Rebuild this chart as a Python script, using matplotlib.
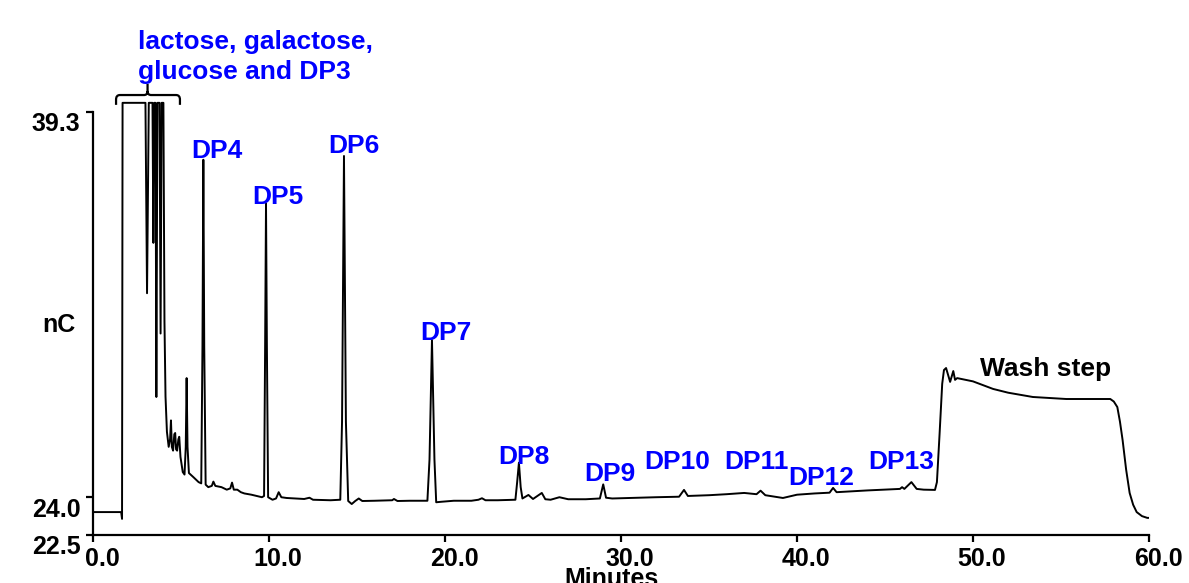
import matplotlib
matplotlib.use("Agg")
import matplotlib.pyplot as plt
from matplotlib.path import Path
from matplotlib.patches import PathPatch
from matplotlib.transforms import ScaledTranslation

plt.rcParams['font.family'] = ['Liberation Sans', 'DejaVu Sans']
plt.rcParams['font.weight'] = 'bold'

# ---- data ----
CLIP = 39.66
time_min = [
    0.0, 1.6, 1.65, 1.68, 2.98, 3.07, 3.17, 3.38, 3.43, 3.48, 3.55, 3.6, 3.66,
    3.78, 3.84, 3.9, 4.0, 4.06, 4.12, 4.2, 4.3, 4.38, 4.43, 4.48, 4.55, 4.62,
    4.67, 4.72, 4.78, 4.85, 4.9, 4.97, 5.1, 5.2, 5.27, 5.32, 5.37, 5.45, 5.7,
    6.0, 6.15, 6.22, 6.27, 6.32, 6.4, 6.55, 6.75, 6.84, 6.95, 7.3, 7.6, 7.8,
    7.9, 8.0, 8.2, 8.4, 8.6, 9.0, 9.3, 9.6, 9.72, 9.78, 9.83, 9.88, 9.95, 10.2,
    10.4, 10.55, 10.7, 11.0, 12.0, 12.3, 12.5, 13.5, 14.05, 14.15, 14.26, 14.37,
    14.5, 14.7, 14.9, 15.1, 15.3, 16.0, 17.0, 17.1, 17.3, 18.0, 19.0, 19.12,
    19.26, 19.4, 19.5, 19.8, 20.5, 21.5, 21.9, 22.1, 22.3, 23.0, 24.0, 24.1,
    24.2, 24.3, 24.4, 24.74, 25.0, 25.5, 25.7, 26.0, 26.5, 26.8, 27.0, 28.0,
    28.8, 28.99, 29.15, 29.5, 31.0, 32.0, 33.3, 33.58, 33.8, 35.0, 36.0, 37.0,
    37.7, 37.93, 38.2, 39.2, 40.0, 41.0, 41.85, 42.05, 42.25, 44.0, 45.5, 45.85,
    45.97, 46.1, 46.5, 46.8, 47.2, 47.84, 47.95, 48.1, 48.25, 48.35, 48.47,
    48.7, 48.88, 48.98, 49.1, 50.0, 51.14, 52.0, 53.4, 55.3, 57.8, 58.0, 58.2,
    58.35, 58.5, 58.7, 58.9, 59.1, 59.3, 59.6, 59.9, 60.0]
signal_nC = [
    23.41, 23.41, 23.14, CLIP, CLIP, 32.1, CLIP, CLIP, 34.1, CLIP, CLIP, 27.98,
    CLIP, CLIP, 30.5, CLIP, CLIP, 31.0, 28.0, 26.6, 26.0, 26.3, 27.05, 26.0,
    25.85, 26.5, 26.55, 25.9, 25.85, 26.3, 26.4, 25.6, 25.0, 24.9, 26.0, 28.73,
    26.0, 24.96, 24.8, 24.6, 24.55, 30.0, 37.4, 30.0, 24.5, 24.4, 24.45, 24.62,
    24.45, 24.4, 24.3, 24.35, 24.58, 24.3, 24.3, 24.2, 24.15, 24.1, 24.05,
    24.0, 24.05, 30.0, 35.65, 30.0, 24.0, 23.9, 23.95, 24.2, 24.0, 23.97,
    23.93, 23.98, 23.9, 23.88, 23.9, 27.0, 37.55, 27.0, 23.85, 23.73, 23.85,
    23.95, 23.85, 23.86, 23.88, 23.93, 23.85, 23.86, 23.86, 25.5, 30.24, 25.5,
    23.8, 23.82, 23.86, 23.86, 23.9, 23.96, 23.88, 23.88, 23.9, 24.6, 25.37,
    24.4, 23.95, 24.09, 23.93, 24.17, 23.92, 23.9, 24.0, 23.95, 23.92, 23.92,
    23.95, 24.51, 23.98, 23.95, 23.98, 24.0, 24.02, 24.29, 24.05, 24.08, 24.12,
    24.17, 24.12, 24.26, 24.08, 23.97, 24.1, 24.15, 24.18, 24.37, 24.2, 24.27,
    24.32, 24.33, 24.4, 24.33, 24.6, 24.33, 24.3, 24.29, 24.6, 26.5, 28.5,
    29.05, 29.13, 28.58, 29.01, 28.66, 28.73, 28.6, 28.3, 28.15, 27.98, 27.9,
    27.9, 27.8, 27.58, 27.0, 26.27, 25.1, 24.17, 23.7, 23.41, 23.25, 23.18,
    23.18]

peak_labels = ['DP4', 'DP5', 'DP6', 'DP7', 'DP8', 'DP9', 'DP10', 'DP11',
               'DP12', 'DP13']
xtick_values = [0, 10, 20, 30, 40, 50, 60]
ytick_values = [22.5, 24.0, 39.3]

# ---- figure ----
fig = plt.figure(figsize=(11.89, 5.83), dpi=100)
ax = fig.add_axes([93 / 1189, 48 / 583, 1056 / 1189, 478 / 583])
ax.plot(time_min, signal_nC, color='black', lw=1.4, solid_joinstyle='round')
ax.set_xlim(0, 60)
ax.set_ylim(22.5, 41.48)

for s in ['top', 'right']:
    ax.spines[s].set_visible(False)
ax.spines['left'].set_bounds(22.5, 39.3)
ax.spines['left'].set_linewidth(1.6)
ax.spines['bottom'].set_linewidth(1.6)

ax.set_xticks(xtick_values)
ax.set_xticklabels([f'{v:.1f}' for v in xtick_values])
ax.set_yticks(ytick_values)
ax.set_yticklabels([f'{v:.1f}' for v in ytick_values])
ax.tick_params(axis='both', direction='out', length=5, width=1.6,
               labelsize=18, pad=4)

dx = ScaledTranslation(0.09, 0, fig.dpi_scale_trans)
for lab in ax.get_xticklabels():
    lab.set_transform(lab.get_transform() + dx)
    lab.set_fontweight('bold')
dy = ScaledTranslation(0, -0.10, fig.dpi_scale_trans)
for lab in ax.get_yticklabels():
    lab.set_transform(lab.get_transform() + dy)
    lab.set_fontweight('bold')

# axis labels
fig.text(59 / 1189, 1 - 325 / 583, 'nC', ha='center', va='center',
         fontsize=18, fontweight='bold')
fig.text(612 / 1189, 1 - 579 / 583, 'Minutes', ha='center', va='center',
         fontsize=18, fontweight='bold')

# peak annotations
label_pos = [(7.05, 37.73), (10.48, 35.92), (14.83, 37.95), (20.06, 30.52),
             (24.49, 25.6), (29.35, 24.92), (33.18, 25.4), (37.7, 25.4),
             (41.36, 24.76), (45.9, 25.4)]
for name, (xx, yy) in zip(peak_labels, label_pos):
    ax.text(xx, yy, name, color='#0000ff', fontsize=19, fontweight='bold',
            ha='center', va='center')

ax.text(54.12, 29.09, 'Wash step', color='black', fontsize=19,
        fontweight='bold', ha='center', va='center')

ax.text(2.56, 42.08, 'lactose, galactose,', color='#0000ff', fontsize=19,
        fontweight='bold', ha='left', va='center', clip_on=False)
ax.text(2.56, 40.89, 'glucose and DP3', color='#0000ff', fontsize=19,
        fontweight='bold', ha='left', va='center', clip_on=False)

# bracket
verts = [(1.31, 39.58), (1.31, 39.79), (1.31, 39.97), (1.53, 39.97),
         (2.9, 39.97), (3.10, 39.97), (3.10, 40.13), (3.10, 40.41),
         (3.10, 40.13), (3.10, 39.97), (3.30, 39.97), (4.72, 39.97),
         (4.94, 39.97), (4.94, 39.79), (4.94, 39.58)]
codes = [Path.MOVETO, Path.LINETO, Path.CURVE3, Path.CURVE3,
         Path.LINETO, Path.CURVE3, Path.CURVE3, Path.LINETO,
         Path.MOVETO, Path.CURVE3, Path.CURVE3, Path.LINETO,
         Path.CURVE3, Path.CURVE3, Path.LINETO]
ax.add_patch(PathPatch(Path(verts, codes), facecolor='none',
                       edgecolor='black', lw=1.6, clip_on=False))

fig.savefig('out.png', dpi=100)
